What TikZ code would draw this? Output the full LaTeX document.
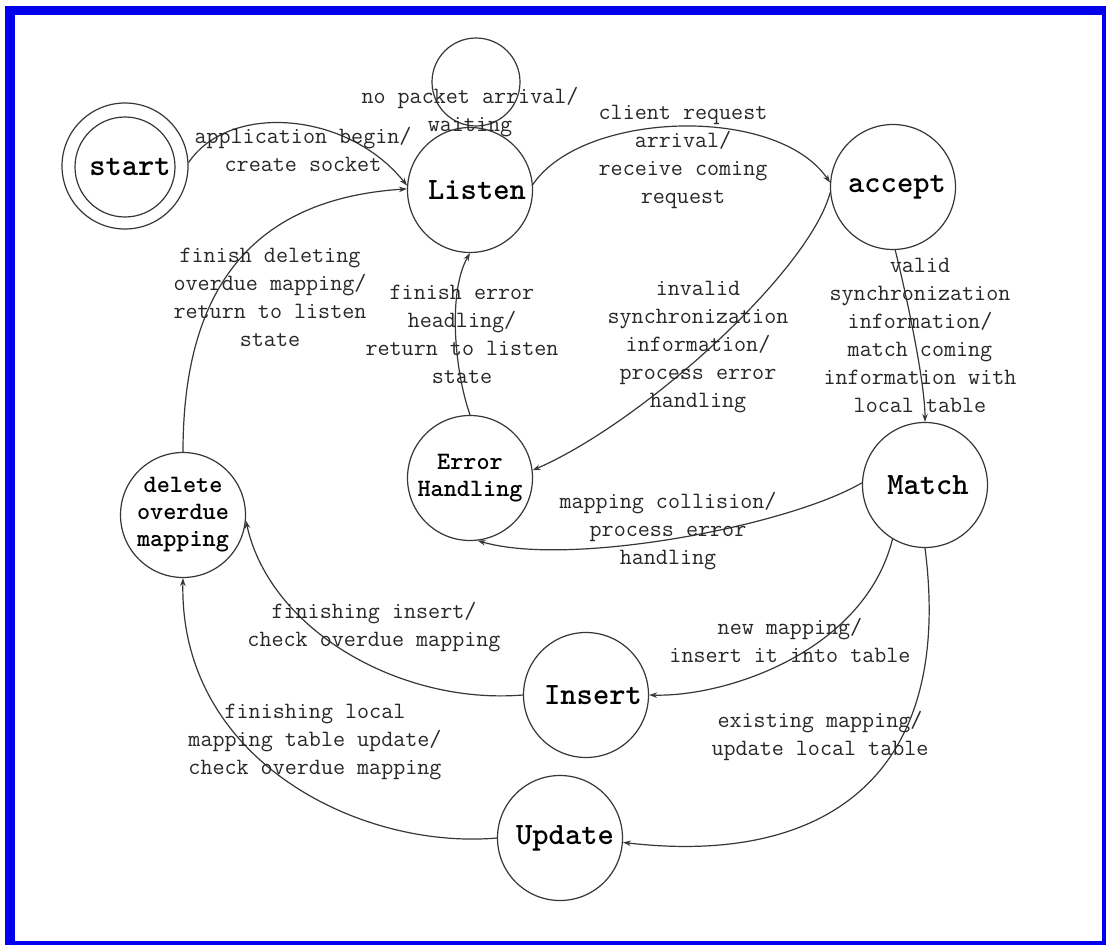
\documentclass[tikz,border=0pt]{standalone}
\usetikzlibrary{arrows.meta}
\definecolor{frameblue}{RGB}{0,0,235}
\definecolor{ink}{RGB}{55,55,55}
\definecolor{txt}{RGB}{40,40,40}
\begin{document}
\begin{tikzpicture}[x=1pt,y=1pt,
  state/.style={circle,draw=ink,line width=1.2pt,inner sep=0pt,minimum size=125pt,
    font=\ttfamily\bfseries\fontsize{31}{33}\selectfont,text=black},
  smallstate/.style={state,align=center,
    font=\ttfamily\bfseries\fontsize{25}{27}\selectfont},
  lbl/.style={font=\ttfamily\fontsize{23.4}{28}\selectfont,text=txt,align=center,inner sep=0pt},
  arr/.style={draw=ink,line width=1.2pt,-{Stealth[length=8pt,width=5.5pt]}},
]
\useasboundingbox (0,0) rectangle (1109,-947);
% window frame
\fill[frameblue] (5,-6) rectangle (1106,-945);
\fill[white] (15,-15) rectangle (1102,-941);

% states
\node[state,minimum size=126pt] (start) at (125,-166) {};
\node[state,minimum size=100pt] (startin) at (125,-167) {\hspace*{10pt}start};
\node[state,minimum size=88pt] (loop) at (476,-82) {};
\node[state] (listen) at (470,-190) {\hspace*{14pt}Listen};
\node[state] (accept) at (893,-187) {\hspace*{8pt}accept};
\node[smallstate] (err) at (470,-478) {Error\\Handling};
\node[state] (match) at (925,-485) {\hspace*{6pt}Match};
\node[smallstate] (del) at (183,-515) {delete\\overdue\\mapping};
\node[state] (insert) at (586,-695) {\hspace*{14pt}Insert};
\node[state] (update) at (560,-838) {\hspace*{10pt}Update};

% transitions
\draw[arr] (start.3) .. controls +(40,60) and +(-60,75) .. (listen.176);
\draw[arr] (del.90) .. controls +(0,163) and +(-155,-10) .. (listen.179);
\draw[arr] (listen.5) .. controls +(50,74) and +(-53,78) .. (accept.176);
\draw[arr] (accept.185) .. controls +(-20,-77) and +(114,50) .. (err.7);
\draw[arr] (err.90) .. controls +(-16,46) and +(-22,-38) .. (listen.270);
\draw[arr] (accept.272) .. controls +(10,-40) and +(0,41) .. (match.90);
\draw[arr] (match.178) .. controls +(-73,-43) and +(92,-27) .. (err.-83);
\draw[arr] (match.239) .. controls +(-28,-112) and +(78,-2) .. (insert.0);
\draw[arr] (match.270) .. controls +(30,-233) and +(197,-23) .. (update.-4);
\draw[arr] (insert.180) .. controls +(-122,-10) and +(24,-110) .. (del.-5);
\draw[arr] (update.180) .. controls +(-137,-12) and +(-4,-182) .. (del.-90);

% transition labels
\node[lbl] (l1) at (303,-149) {application begin/\\create socket};
\node[lbl] (l2) at (470,-112) {no packet arrival/\\waiting};
\node[lbl] (l3) at (683,-157) {client request\\arrival/\\receive coming\\request};
\node[lbl] (l4) at (270,-297) {finish deleting\\overdue mapping/\\return to listen\\state};
\node[lbl] (l5) at (462,-334) {finish error\\headling/\\return to listen\\state};
\node[lbl] (l6) at (698,-347) {invalid\\synchronization\\information/\\process error\\handling};
\node[lbl] (l7) at (920,-335) {valid\\synchronization\\information/\\match coming\\information with\\local table};
\node[lbl] (l8) at (668,-531) {mapping collision/\\process error\\handling};
\node[lbl] (l9) at (790,-640) {new mapping/\\insert it into table};
\node[lbl] (l10) at (820,-736) {existing mapping/\\update local table};
\node[lbl] (l11) at (374,-627) {finishing insert/\\check overdue mapping};
\node[lbl] (l12) at (315,-742) {finishing local\\mapping table update/\\check overdue mapping};
\end{tikzpicture}
\end{document}
